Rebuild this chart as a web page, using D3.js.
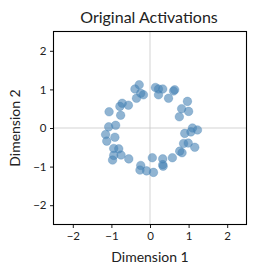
<!DOCTYPE html>
<html>
<head>
<meta charset="utf-8">
<script src="https://cdn.jsdelivr.net/npm/d3@7"></script>
<style>
  body { margin: 0; background: #fff; }
  text { font-family: Lato, "Noto Sans", sans-serif; fill: #222; }
</style>
</head>
<body>
<div id="chart"></div>
<script>
// chart size
var w = 255;
var h = 276;

// point coordinates
var dim1 = [-0.28, -0.39, -0.24, -0.17, -0.35, 0.14, 0.22, 0.33, 0.22, 0.48,
            0.61, 0.64, 0.97, 0.82, 1.00, 0.76, 1.10, 1.23, 1.06, 0.90,
            0.87, 0.99, 1.16, 0.77, 0.83, 0.58, 0.33, 0.34, 0.33, 0.06,
            0.09, -0.09, -0.24, -0.26, -0.55, -0.75, -0.81, -0.94, -0.94, -0.97,
            -1.12, -1.15, -0.91, -1.07, -0.89, -1.06, -0.76, -0.78, -0.72, -0.56];
var dim2 = [1.12, 1.01, 0.90, 0.86, 0.77, 1.05, 1.01, 1.01, 0.86, 0.77,
            0.96, 0.99, 0.69, 0.50, 0.43, 0.29, 0.00, -0.05, -0.10, -0.14,
            -0.40, -0.39, -0.50, -0.60, -0.64, -0.77, -0.80, -0.99, -0.95, -0.77,
            -1.15, -1.11, -0.97, -1.09, -0.80, -0.70, -0.54, -0.53, -0.71, -0.83,
            -0.34, -0.17, -0.24, 0.03, 0.07, 0.42, 0.33, 0.56, 0.64, 0.59];
var tickVals = [-2, -1, 0, 1, 2];

// plot area (names avoid window.top)
var pLeft = 53.5, pRight = 246.5, pTop = 31.5, pBottom = 224.5;

var xscale = d3.scaleLinear().domain([-2.5, 2.5]).range([pLeft, pRight]);
var yscale = d3.scaleLinear().domain([-2.5, 2.5]).range([pBottom, pTop]);

var svg = d3.select("#chart")
            .append("svg")
            .attr("width", w)
            .attr("height", h);

// zero lines
svg.append("line")
    .attr("x1", xscale(0)).attr("x2", xscale(0))
    .attr("y1", pTop).attr("y2", pBottom)
    .attr("stroke", "#c8c8c8").attr("stroke-width", 0.8);
svg.append("line")
    .attr("x1", pLeft).attr("x2", pRight)
    .attr("y1", yscale(0)).attr("y2", yscale(0))
    .attr("stroke", "#c8c8c8").attr("stroke-width", 0.8);

// points
svg.selectAll("circle")
    .data(dim1)
    .enter()
    .append("circle")
    .attr("cx", d => xscale(d))
    .attr("cy", (d, i) => yscale(dim2[i]))
    .attr("r", 4.3)
    .attr("fill", "#4682b4")
    .attr("fill-opacity", 0.6)
    .attr("stroke", "#4682b4")
    .attr("stroke-opacity", 0.6)
    .attr("stroke-width", 0.5);

// axes
var fmt = d => d < 0 ? "\u2212" + Math.abs(d) : d;
var xaxis = d3.axisBottom(xscale).tickValues(tickVals).tickSize(3.5).tickPadding(3.5).tickFormat(fmt);
var yaxis = d3.axisLeft(yscale).tickValues(tickVals).tickSize(3.5).tickPadding(3.5).tickFormat(fmt);

var gx = svg.append("g")
    .attr("transform", "translate(0," + pBottom + ")")
    .call(xaxis);
var gy = svg.append("g")
    .attr("transform", "translate(" + pLeft + ",0)")
    .call(yaxis);
[gx, gy].forEach(function(g)
{
    g.select(".domain").remove();
    g.selectAll("line").attr("stroke", "#000").attr("stroke-width", 0.9);
    g.selectAll("text").style("font-size", "11.5px").attr("fill", "#222");
});

// frame
svg.append("rect")
    .attr("x", pLeft).attr("y", pTop)
    .attr("width", pRight - pLeft).attr("height", pBottom - pTop)
    .attr("fill", "none")
    .attr("stroke", "#000")
    .attr("stroke-width", 1.1);

// title and axis labels
svg.append("text")
    .attr("x", 149).attr("y", 23)
    .attr("text-anchor", "middle")
    .style("font-size", "16px")
    .text("Original Activations");

svg.append("text")
    .attr("x", (pLeft + pRight) / 2).attr("y", 262)
    .attr("text-anchor", "middle")
    .style("font-size", "14px")
    .text("Dimension 1");

svg.append("text")
    .attr("transform", "translate(20," + ((pTop + pBottom) / 2) + ") rotate(-90)")
    .attr("text-anchor", "middle")
    .style("font-size", "14px")
    .text("Dimension 2");
</script>
</body>
</html>
